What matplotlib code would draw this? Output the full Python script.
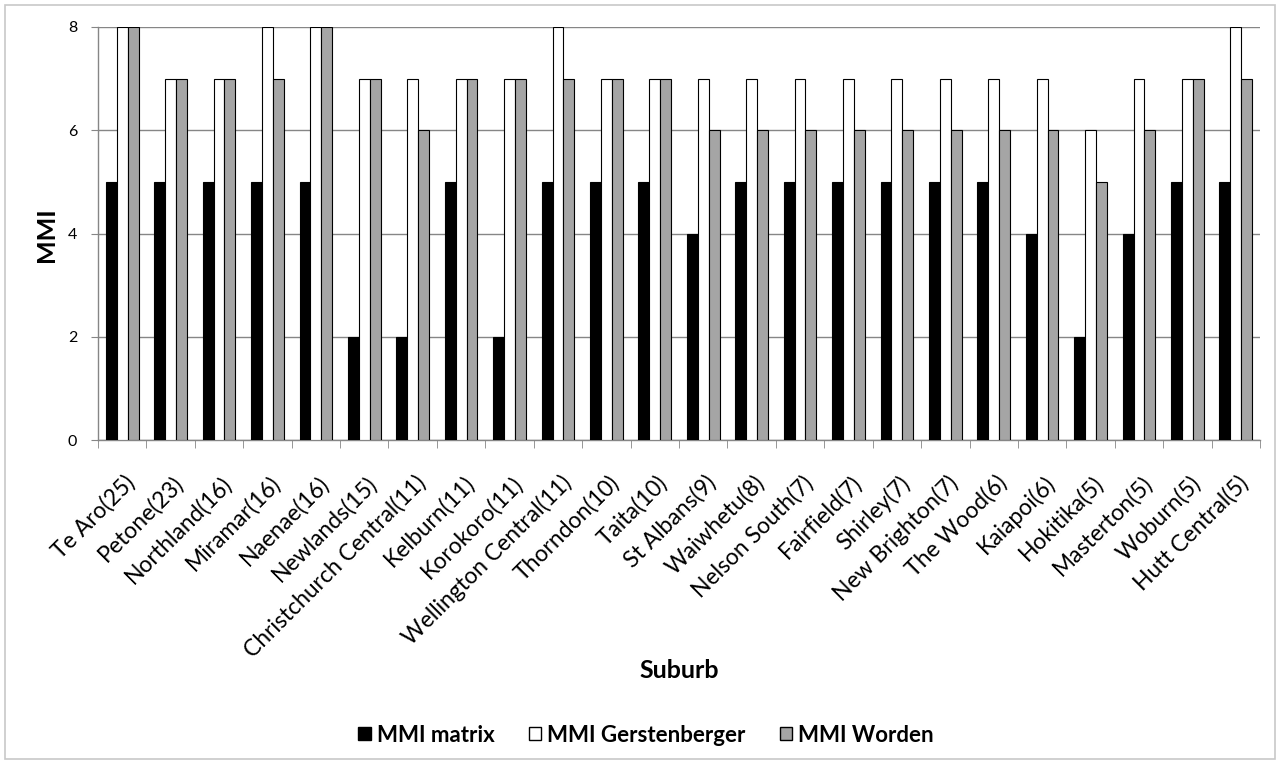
import matplotlib.pyplot as plt
import matplotlib.transforms as mtransforms
import numpy as np
from matplotlib.patches import Patch, Rectangle

plt.rcParams['font.family'] = ['Lato', 'DejaVu Sans']

suburbs = ['Te Aro(25)', 'Petone(23)', 'Northland(16)', 'Miramar(16)', 'Naenae(16)',
           'Newlands(15)', 'Christchurch Central(11)', 'Kelburn(11)', 'Korokoro(11)',
           'Wellington Central(11)', 'Thorndon(10)', 'Taita(10)', 'St Albans(9)',
           'Waiwhetu(8)', 'Nelson South(7)', 'Fairfield(7)', 'Shirley(7)',
           'New Brighton(7)', 'The Wood(6)', 'Kaiapoi(6)', 'Hokitika(5)',
           'Masterton(5)', 'Woburn(5)', 'Hutt Central(5)']
mmi_matrix = [5, 5, 5, 5, 5, 2, 2, 5, 2, 5, 5, 5, 4, 5, 5, 5, 5, 5, 5, 4, 2, 4, 5, 5]
mmi_gerstenberger = [8, 7, 7, 8, 8, 7, 7, 7, 7, 8, 7, 7, 7, 7, 7, 7, 7, 7, 7, 7, 6, 7, 7, 8]
mmi_worden = [8, 7, 7, 7, 8, 7, 6, 7, 7, 7, 7, 7, 6, 6, 6, 6, 6, 6, 6, 6, 5, 6, 7, 7]

GRID = '#868686'
GREY = '#a5a5a5'
W, H = 1280, 764

fig = plt.figure(figsize=(12.8, 7.64), dpi=100)
fig.patches.append(Rectangle((0.004, 0.006), 0.992, 0.988, transform=fig.transFigure,
                             fill=False, edgecolor='#c8c8c8', linewidth=1.2))

ax = fig.add_axes([98 / W, 1 - 440 / H, 1162 / W, 413 / H])

x = np.arange(len(suburbs))
w = 0.225
ax.bar(x - w, mmi_matrix, w, color='black', edgecolor='black', linewidth=0.8,
       label='MMI matrix', zorder=3)
ax.bar(x, mmi_gerstenberger, w, color='white', edgecolor='black', linewidth=0.8,
       label='MMI Gerstenberger', zorder=3)
ax.bar(x + w, mmi_worden, w, color=GREY, edgecolor='black', linewidth=0.8,
       label='MMI Worden', zorder=3)

ax.set_xlim(-0.5, len(suburbs) - 0.5)
ax.set_ylim(0, 8)
ax.set_yticks([0, 2, 4, 6, 8])
ax.yaxis.grid(True, color=GRID, linewidth=1)
ax.set_axisbelow(True)

# category labels at centres, tick marks at boundaries
ax.set_xticks(x)
ax.set_xticklabels(suburbs, rotation=45, ha='right', rotation_mode='anchor', fontsize=16.5)
ax.tick_params(axis='x', length=0, pad=23)
shift = mtransforms.ScaledTranslation(2 / 100, 0, fig.dpi_scale_trans)
for lbl in ax.get_xticklabels():
    lbl.set_transform(lbl.get_transform() + shift)
ax.set_xticks(np.arange(-0.5, len(suburbs)), minor=True)
ax.tick_params(axis='x', which='minor', length=6, color=GRID, direction='out')
ax.tick_params(axis='y', length=5, color=GRID, labelsize=11.5, pad=10)

for s in ['top', 'right']:
    ax.spines[s].set_visible(False)
for s in ['left', 'bottom']:
    ax.spines[s].set_color(GRID)
    ax.spines[s].set_linewidth(1)

fig.text(46 / W, 1 - 235 / H, 'MMI', rotation=90, ha='center', va='center',
         fontsize=18, fontweight='bold')
fig.text(679 / W, 1 - 671 / H, 'Suburb', ha='center', va='center', fontsize=18,
         fontweight='bold')

handles = [Patch(facecolor='black', edgecolor='black', label='MMI matrix'),
           Patch(facecolor='white', edgecolor='black', label='MMI Gerstenberger'),
           Patch(facecolor=GREY, edgecolor='black', label='MMI Worden')]
fig.legend(handles=handles, loc='center', bbox_to_anchor=(646 / W, 1 - 735 / H), ncol=3,
           frameon=False, prop={'size': 16, 'weight': 'bold'}, handlelength=0.55,
           handleheight=0.55, handletextpad=0.27, columnspacing=1.55)

fig.savefig('out.png', dpi=100)
